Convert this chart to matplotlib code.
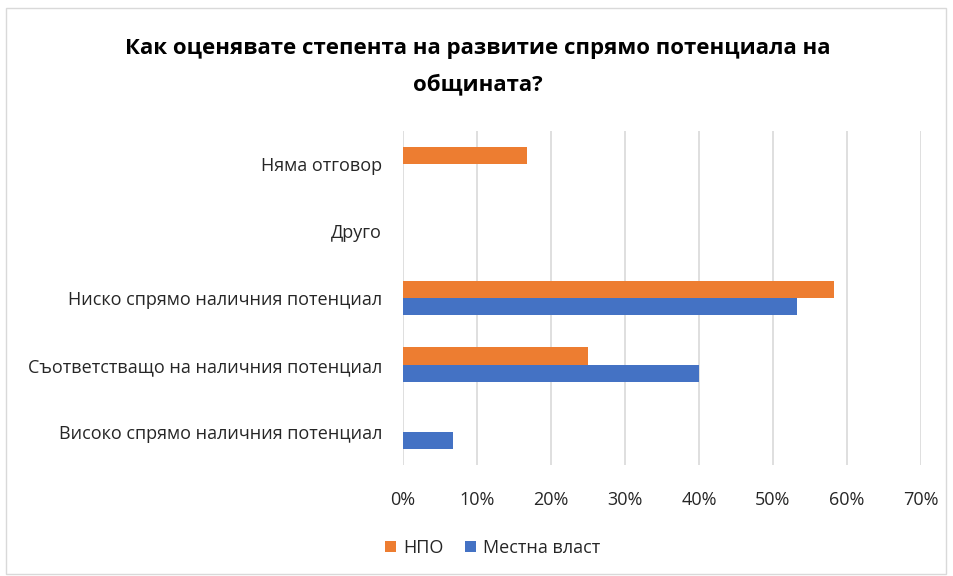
import matplotlib
matplotlib.use("Agg")
import matplotlib.pyplot as plt
from matplotlib.patches import Rectangle
import numpy as np

plt.rcParams['font.family'] = ['Open Sans', 'DejaVu Sans']

categories = [
    "Високо спрямо наличния потенциал",
    "Съответстващо на наличния потенциал",
    "Ниско спрямо наличния потенциал",
    "Друго",
    "Няма отговор",
]
npo = [0, 25.0, 58.3, 0, 16.7]
local = [6.7, 40.0, 53.3, 0, 0]
series_names = ["НПО", "Местна власт"]
colors = ["#ED7D31", "#4472C4"]
xticks = [0, 10, 20, 30, 40, 50, 60, 70]
title = "Как оценявате степента на развитие спрямо потенциала на\nобщината?"

W, H = 954, 576
fig = plt.figure(figsize=(W / 100, H / 100), dpi=100)
fig.patch.set_facecolor("white")
fig.add_artist(Rectangle((6 / W, 2 / H), (W - 14) / W, (H - 10) / H,
                         transform=fig.transFigure, fill=False,
                         edgecolor="#D9D9D9", linewidth=1))

ax = fig.add_axes([403 / W, 1 - 465 / H, 518 / W, (465 - 131) / H])
y = np.arange(len(categories))
h = 0.26
ax.barh(y + h / 2, npo, height=h, color=colors[0], label=series_names[0], zorder=3)
ax.barh(y - h / 2, local, height=h, color=colors[1], label=series_names[1], zorder=3)

txt_color = "#262626"
ax.set_xlim(0, 70)
ax.set_ylim(-0.5, len(categories) - 0.5)
ax.set_xticks(xticks)
ax.set_xticklabels([f"{t}%" for t in xticks], fontsize=13, color=txt_color)
ax.set_yticks(y)
ax.set_yticklabels(categories, fontsize=13, color=txt_color)
ax.tick_params(axis="both", length=0)
ax.tick_params(axis="x", pad=19)
ax.tick_params(axis="y", pad=15)
ax.grid(axis="x", color="#D9D9D9", linewidth=1.2, zorder=0)
for s in ax.spines.values():
    s.set_visible(False)

fig.text(478 / W, 1 - 67 / H, title, ha="center", va="center",
         fontsize=16, fontweight="bold", color="#000000", linespacing=1.85)

leg = fig.legend(loc="center", bbox_to_anchor=(493 / W, 1 - 548 / H), ncol=2,
                 frameon=False, fontsize=13, handlelength=0.6, handleheight=0.6,
                 columnspacing=1.2, handletextpad=0.4)
for t in leg.get_texts():
    t.set_color(txt_color)

fig.savefig("out.png", dpi=100)
